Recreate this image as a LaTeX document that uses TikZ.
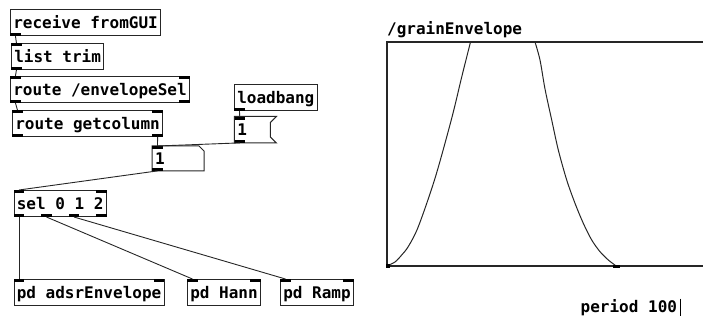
\documentclass[tikz,border=0pt]{standalone}
\usepackage{fontspec}
\newfontfamily\pdfont{DejaVu Sans Mono}
\begin{document}
\begin{tikzpicture}[x=1pt,y=-1pt,
  pdfnt/.style={font=\pdfont\bfseries\fontsize{16}{18}\selectfont, text=black},
  pdtext/.style={pdfnt, anchor=north west, inner xsep=2.8pt, inner ysep=0pt,
    minimum height=26pt, text height=13.5pt, text depth=1.5pt},
  pdbox/.style={pdtext, draw=black!85, line width=1pt},
  boxline/.style={draw=black!85, line width=1pt},
  iolet/.style={fill=black, draw=none, minimum width=10.5pt, minimum height=3pt, inner sep=0pt},
  inL/.style={iolet, anchor=north west},
  inR/.style={iolet, anchor=north east},
  outL/.style={iolet, anchor=south west},
  outR/.style={iolet, anchor=south east},
  wire/.style={draw=black!85, line width=0.9pt},
  arrline/.style={draw=black!85, line width=1.3pt},
  curve/.style={draw=black!85, line width=1pt}
]
\useasboundingbox (0,0) rectangle (703,320);

% boxes
\node[pdbox] (recv) at (10,9) {receive fromGUI};
\node[pdbox] (list) at (11,43) {list trim};
\node[pdbox] (renv) at (10,76) {route /envelopeSel};
\node[pdbox] (rget) at (12,110) {route getcolumn};
\node[pdbox] (lb) at (234,84) {loadbang};
\node[pdtext, text width=30pt, align=left] (msg) at (234.3,116.5) {1};
\node[pdtext, text width=46pt, align=left, minimum height=24.5pt] (num) at (152,146) {1};
\node[pdbox] (sel) at (13.5,190) {sel 0 1 2};
\node[pdbox] (adsr) at (13.5,279) {pd adsrEnvelope};
\node[pdbox] (hann) at (187,279) {pd Hann};
\node[pdbox] (ramp) at (280,279) {pd Ramp};

% message box flag shape
\draw[boxline] (msg.north west) -- ([xshift=6pt]msg.north east) -- ([yshift=-6pt]msg.north east)
  -- ([yshift=6pt]msg.south east) -- ([xshift=6pt]msg.south east) -- (msg.south west) -- cycle;
% number box shape
\draw[boxline] (num.north west) -- ([xshift=-5pt]num.north east) -- ([yshift=-5pt]num.north east)
  -- (num.south east) -- (num.south west) -- cycle;

% inlets / outlets
\node[outL] (recv-o) at (recv.south west) {};
\node[inL] (list-i) at (list.north west) {};
\node[outL] (list-o) at (list.south west) {};
\node[inL] (renv-i0) at (renv.north west) {};
\node[inR] (renv-i1) at (renv.north east) {};
\node[outL] (renv-o0) at (renv.south west) {};
\node[outR] (renv-o1) at (renv.south east) {};
\node[inL] (rget-i0) at (rget.north west) {};
\node[inR] (rget-i1) at (rget.north east) {};
\node[outL] (rget-o0) at (rget.south west) {};
\node[outR] (rget-o1) at (rget.south east) {};
\node[outL] (lb-o) at (lb.south west) {};
\node[inL] (msg-i) at (msg.north west) {};
\node[outL] (msg-o) at (msg.south west) {};
\node[inL] (num-i) at (num.north west) {};
\node[outL] (num-o) at (num.south west) {};
\node[inL] (sel-i0) at (sel.north west) {};
\node[inR] (sel-i1) at (sel.north east) {};
\node[outL] (sel-o0) at (sel.south west) {};
\node[outL, xshift=27.5pt] (sel-o1) at (sel.south west) {};
\node[outL, xshift=55pt] (sel-o2) at (sel.south west) {};
\node[outR] (sel-o3) at (sel.south east) {};
\node[inL] (adsr-i0) at (adsr.north west) {};
\node[inR] (adsr-i1) at (adsr.north east) {};
\node[inL] (hann-i0) at (hann.north west) {};
\node[inR] (hann-i1) at (hann.north east) {};
\node[inL] (ramp-i0) at (ramp.north west) {};
\node[inR] (ramp-i1) at (ramp.north east) {};

% wires
\draw[wire] (recv-o.south) -- (list-i.north);
\draw[wire] (list-o.south) -- (renv-i0.north);
\draw[wire] (renv-o0.south) -- (rget-i0.north);
\draw[wire] (rget-o1.south) -- (num-i.north);
\draw[wire] (lb-o.south) -- (msg-i.north);
\draw[wire] (msg-o.south) -- (num-i.north);
\draw[wire] (num-o.south) -- (sel-i0.north);
\draw[wire] (sel-o0.south) -- (adsr-i0.north);
\draw[wire] (sel-o1.south) -- (hann-i0.north);
\draw[wire] (sel-o2.south) -- (ramp-i0.north);

% array
\node[pdfnt, anchor=base west, inner sep=0pt] (lbl) at (387,35) {/grainEnvelope};
\draw[arrline] (703,42) -- (387,42) -- (387,266) -- (703,266);
\draw[curve] plot[smooth] coordinates {(387.5,265.5) (395,262) (401.7,255) (408.3,246.5)
  (418.3,226.7) (435,178.3) (451.7,118.3) (461.7,77) (470.5,42)};
\draw[curve] plot[smooth] coordinates {(535,42) (540,60) (545,89) (551.7,120) (558.3,150)
  (566.7,180) (575,203.3) (583.3,223.3) (591.7,240) (600,251.7) (608.3,260) (615.5,265.5)};
\fill[black] (386,264) rectangle (390,267.5);
\fill[black] (612.5,264.5) rectangle (619.5,267.5);

% text with cursor
\node[pdfnt, anchor=base west, inner sep=0pt] (period) at (580.5,312.5) {period 100};
\draw[line width=1pt] ([xshift=3pt,yshift=14pt]period.base east) -- ([xshift=3pt,yshift=-3.5pt]period.base east);
\end{tikzpicture}
\end{document}
